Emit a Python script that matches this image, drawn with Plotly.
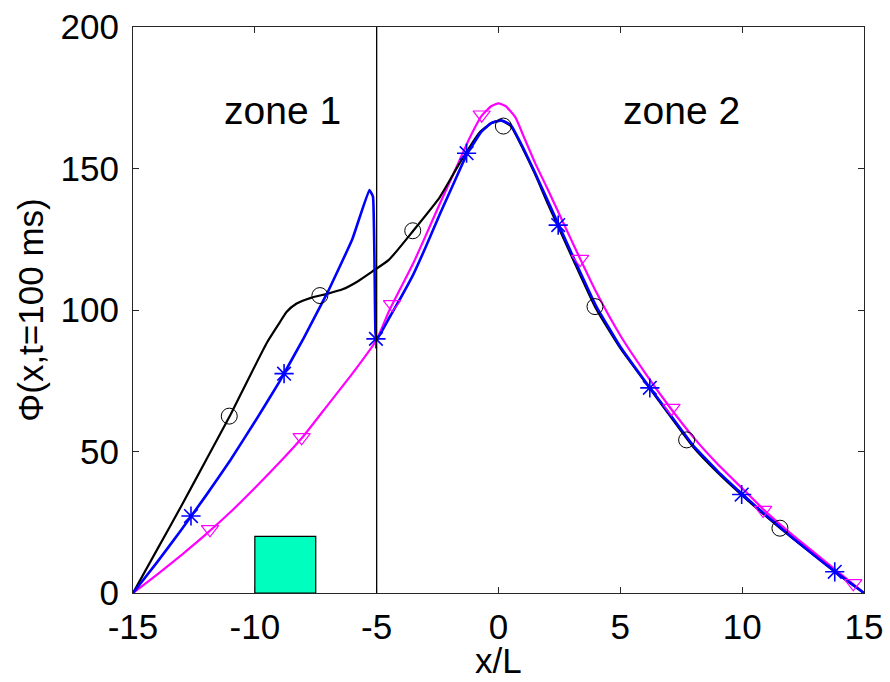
import plotly.graph_objects as go

# ---- data ----
x_black = [-15, -14, -13, -12, -11, -10.3, -9.5, -9.0, -8.7, -8.3, -7.7, -7.0, -6.4, -5.8, -5.2, -4.5, -3.5,
           -2.4, -1.6, -0.8, -0.3, 0.1, 0.5, 1.0, 1.5, 2, 3, 4, 5, 6, 7, 8, 9, 10, 11, 12, 13, 14, 15]
y_black = [0, 15.5, 31, 47, 63, 75, 88.5, 95.3, 99.3, 102.2, 104.3, 105.8, 107.3, 110, 113.5, 117.7, 128,
           140, 151.8, 162.5, 166, 167, 165, 157, 148, 138, 119, 100.5, 86.5, 74.8, 63, 51.5, 42.5, 34.5, 27, 19.8, 13, 6.2, 0]

x_blue = [-15, -14, -13, -12, -11, -10, -9, -8, -7, -6, -5.3, -5.15, -5.05, -5.0, -4.5, -4.0, -3.5, -3.0,
          -2.4, -1.8, -1.3, -0.7, -0.3, 0.1, 0.5, 1.0, 1.5, 2, 3, 4, 5, 6, 7, 8, 9, 10, 11, 12, 13, 14, 15]
y_blue = [0, 11, 22.5, 34.5, 47, 60.5, 74.5, 90, 106.5, 125, 142.4, 140, 92, 89.4, 97, 104.5, 112.5, 122,
          134, 145.5, 155, 163, 166, 167, 165.5, 157.5, 148.5, 139, 120, 101.5, 87, 75, 63.5, 52, 43, 35, 27.3, 20, 13, 6.3, 0]

x_mag = [-15, -14, -13, -12, -11, -10, -9, -8, -7, -6, -5.0, -4.5, -4.0, -3.5, -3.0, -2.4, -1.8, -1.2,
         -0.7, -0.3, 0.0, 0.3, 0.7, 1.0, 1.5, 2, 3, 4, 5, 6, 7, 8, 9, 10, 11, 12, 13, 14, 15]
y_mag = [0, 6.6, 13.5, 20.8, 28.6, 37.1, 46, 55.5, 66.5, 77.5, 89.5, 99.5, 108, 116.5, 126, 137.7, 149, 160.5,
         168.5, 172, 173, 172, 168, 162, 152, 143, 124.5, 106.5, 91, 78, 66, 55, 45.5, 37, 28.5, 21, 14, 7, 0]

circles_x = [-11.05, -7.33, -3.52, 0.2, 3.96, 7.72, 11.55]
circles_y = [62.5, 105.1, 128, 165, 101.2, 54.1, 22.9]
stars_x = [-12.62, -8.8, -5.03, -1.31, 2.45, 6.21, 9.98, 13.8]
stars_y = [27.2, 77.5, 89.8, 155.4, 130, 72.5, 34.8, 7.5]
tri_x = [-11.84, -8.08, -4.37, -0.69, 3.35, 7.1, 10.86, 14.56]
tri_y = [22.5, 55, 102, 169, 118, 65.3, 29.3, 3.4]

zone_boundary = -5
source_x = [-10, -7.5]
source_h = 20
x_ticks = [-15, -10, -5, 0, 5, 10, 15]
x_tick_text = ["-15", "-10", "-5", "0", "5", "10", "15"]
y_ticks = [0, 50, 100, 150, 200]

FONT = "Liberation Sans, Arial, sans-serif"
TICK_SIZE = 35

fig = go.Figure()

fig.add_shape(type="rect", x0=source_x[0], x1=source_x[1], y0=0, y1=source_h,
              fillcolor="#00FFBF", line=dict(color="black", width=1.2), layer="below")
fig.add_shape(type="line", x0=zone_boundary, x1=zone_boundary, y0=0, y1=200,
              line=dict(color="black", width=1.3))

fig.add_trace(go.Scatter(x=x_mag, y=y_mag, mode="lines", line=dict(color="#FF00FF", width=2.2, shape="spline", smoothing=0.5), showlegend=False))
fig.add_trace(go.Scatter(x=x_black, y=y_black, mode="lines", line=dict(color="black", width=2.2, shape="spline", smoothing=0.5), showlegend=False))
fig.add_trace(go.Scatter(x=x_blue, y=y_blue, mode="lines", line=dict(color="#0000FF", width=2.6, shape="spline", smoothing=0.3), showlegend=False))

fig.add_trace(go.Scatter(x=circles_x, y=circles_y, mode="markers",
                         marker=dict(symbol="circle-open", size=16, color="black", line=dict(width=1)), showlegend=False))
fig.add_trace(go.Scatter(x=tri_x, y=tri_y, mode="markers",
                         marker=dict(symbol="triangle-down-open", size=15, color="#FF00FF", line=dict(width=1.2)), showlegend=False))
fig.add_trace(go.Scatter(x=stars_x, y=stars_y, mode="markers",
                         marker=dict(symbol="asterisk-open", size=16, color="#0000FF", line=dict(width=1.6, color="#0000FF")), showlegend=False))

fig.add_annotation(x=-8.85, y=170.5, text="zone 1", showarrow=False, font=dict(family=FONT, size=39, color="black"))
fig.add_annotation(x=7.5, y=170.5, text="zone 2", showarrow=False, font=dict(family=FONT, size=39, color="black"))
# x-axis title, placed just below the tick labels as in the reference
fig.add_annotation(x=0.5, xref="paper", y=0, yref="paper", yanchor="middle", yshift=-67,
                   text="x/L", showarrow=False, borderpad=0, font=dict(family=FONT, size=TICK_SIZE, color="black"))

axis_common = dict(showline=True, linecolor="#262626", linewidth=1.2, mirror="ticks", ticks="inside",
                   ticklen=6, tickcolor="#262626", showgrid=False, zeroline=False, ticklabeloverflow="allow",
                   automargin=False, tickfont=dict(family=FONT, size=TICK_SIZE, color="black"))

fig.update_xaxes(range=[-15, 15], tickvals=x_ticks, ticktext=x_tick_text, ticklabelstandoff=3, **axis_common)
fig.update_yaxes(range=[0, 200], tickvals=y_ticks, ticklabelstandoff=6,
                 title=dict(text="Φ(x,t=100 ms)", font=dict(family=FONT, size=TICK_SIZE, color="black"), standoff=6), **axis_common)

fig.update_layout(width=890, height=682, margin=dict(l=133, r=26, t=27, b=89, autoexpand=False),
                  plot_bgcolor="white", paper_bgcolor="white", font=dict(family=FONT))

# remove the browser's default 8 px body margin so the figure fills the window exactly
fig.write_html("out.html", config={"displayModeBar": False},
               post_script="document.body.style.margin='0';document.body.style.overflow='hidden';")
